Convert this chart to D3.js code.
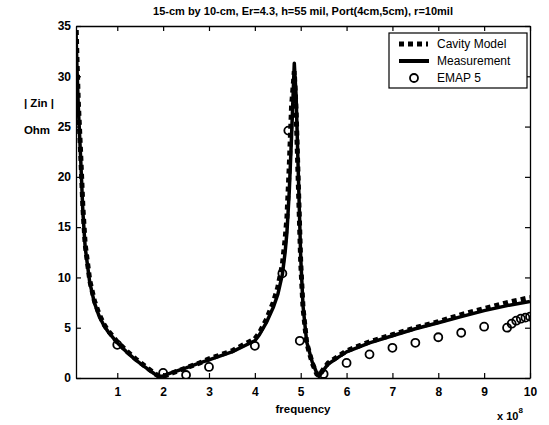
<!DOCTYPE html>
<html>
<head>
<meta charset="utf-8">
<script src="https://cdn.jsdelivr.net/npm/d3@7"></script>
<style>
  body { margin: 0; background: #fff; }
  svg text { font-family: "Liberation Sans", Arial, sans-serif; fill: #000; }
</style>
</head>
<body>
<svg id="chart" width="549" height="425"></svg>
<script>
// frequency in units of 1e8 Hz
var freq = [0.1, 0.12, 0.15, 0.2, 0.25, 0.3, 0.4, 0.5, 0.6, 0.7, 0.8, 1.0, 1.2, 1.4, 1.6, 1.8, 1.9, 2.0, 2.2, 2.5, 2.8, 3.0, 3.5, 4.0, 4.1, 4.25, 4.4, 4.5, 4.6, 4.66, 4.7, 4.75, 4.8, 4.86, 4.9, 4.95, 5.0, 5.05, 5.13, 5.25, 5.35, 5.4, 5.5, 5.6, 5.8, 6.0, 6.5, 7.0, 7.5, 8.0, 8.5, 9.0, 9.5, 10];
var measurement = [34.5, 31, 27, 22, 16.5, 13, 9.5, 7.5, 6.2, 5.3, 4.6, 3.5, 2.6, 1.8, 1.1, 0.45, 0.15, 0.2, 0.55, 1.0, 1.5, 1.8, 2.6, 3.7, 4.3, 5.5, 7.0, 8.3, 10.3, 12.5, 14.5, 18.5, 24, 31.3, 28, 20, 12, 7.2, 3.6, 1.6, 0.5, 0.15, 0.8, 1.4, 2.0, 2.6, 3.5, 4.2, 4.9, 5.5, 6.1, 6.7, 7.2, 7.6];
var cavityModel = [35.5, 32, 27.5, 22.5, 17, 13.3, 9.7, 7.7, 6.4, 5.4, 4.7, 3.6, 2.7, 1.9, 1.2, 0.5, 0.2, 0.15, 0.5, 1.0, 1.5, 1.9, 2.7, 3.9, 4.5, 5.8, 7.5, 9.0, 11.3, 13.8, 16, 21, 27, 30.5, 26.5, 19, 11.5, 7.0, 3.5, 1.5, 0.4, 0.2, 0.9, 1.5, 2.1, 2.7, 3.6, 4.3, 5.0, 5.6, 6.3, 6.9, 7.5, 8.0];
var emapFreq = [1.0, 2.0, 2.5, 3.0, 4.0, 4.6, 4.73, 4.98, 5.5, 6.0, 6.5, 7.0, 7.5, 8.0, 8.5, 9.0, 9.5, 9.6, 9.7, 9.8, 9.9, 10];
var emapValue = [3.3, 0.5, 0.3, 1.1, 3.2, 10.4, 24.6, 3.7, 0.4, 1.5, 2.35, 3.0, 3.5, 4.05, 4.5, 5.1, 5.0, 5.4, 5.7, 5.9, 6.0, 6.1];
var xTicks = [1, 2, 3, 4, 5, 6, 7, 8, 9, 10];
var yTicks = [0, 5, 10, 15, 20, 25, 30, 35];
var legendLabels = ["Cavity Model", "Measurement", "EMAP 5"];

var svg = d3.select("#chart");
var plotLeft = 76, plotRight = 530, plotTop = 26, plotBottom = 378;

var x = d3.scaleLinear().domain([0.1, 10]).range([plotLeft, plotRight]);
var y = d3.scaleLinear().domain([0, 35]).range([plotBottom, plotTop]);

svg.append("defs").append("clipPath").attr("id", "plotClip")
  .append("rect").attr("x", plotLeft).attr("y", plotTop)
  .attr("width", plotRight - plotLeft).attr("height", plotBottom - plotTop);

var plot = svg.append("g").attr("clip-path", "url(#plotClip)");

var line = d3.line()
  .x(function (d) { return x(d[0]); })
  .y(function (d) { return y(d[1]); });

var measPts = freq.map(function (f, i) { return [f, measurement[i]]; });
var cavPts = freq.map(function (f, i) { return [f, cavityModel[i]]; });

plot.append("path").datum(measPts).attr("d", line)
  .attr("fill", "none").attr("stroke", "#000").attr("stroke-width", 3.5)
  .attr("stroke-linejoin", "round");
plot.append("path").datum(cavPts).attr("d", line)
  .attr("fill", "none").attr("stroke", "#000").attr("stroke-width", 5)
  .attr("stroke-dasharray", "5,4");

plot.selectAll(".emap").data(emapFreq).enter().append("circle")
  .attr("class", "emap")
  .attr("cx", function (d) { return x(d); })
  .attr("cy", function (d, i) { return y(emapValue[i]); })
  .attr("r", 4)
  .attr("fill", "none").attr("stroke", "#000").attr("stroke-width", 1.8);

// axes box with inward ticks on all sides
var axes = svg.append("g");
axes.append("g").attr("transform", "translate(0," + plotBottom + ")")
  .call(d3.axisBottom(x).tickValues(xTicks).tickSizeInner(-5).tickSizeOuter(0).tickPadding(9));
axes.append("g").attr("transform", "translate(0," + plotTop + ")")
  .call(d3.axisTop(x).tickValues(xTicks).tickSizeInner(-5).tickSizeOuter(0).tickFormat(""));
axes.append("g").attr("transform", "translate(" + plotLeft + ",0)")
  .call(d3.axisLeft(y).tickValues(yTicks).tickSizeInner(-5).tickSizeOuter(0).tickPadding(5));
axes.append("g").attr("transform", "translate(" + plotRight + ",0)")
  .call(d3.axisRight(y).tickValues(yTicks).tickSizeInner(-5).tickSizeOuter(0).tickFormat(""));
axes.selectAll(".domain").attr("stroke", "#000").attr("stroke-width", 1.3);
axes.selectAll(".tick line").attr("stroke", "#000").attr("stroke-width", 1.2);
axes.selectAll(".tick text").attr("font-size", 12).attr("font-weight", "bold")
  .attr("font-family", "Liberation Sans, Arial, sans-serif");

// labels
svg.append("text").attr("x", (plotLeft + plotRight) / 2).attr("y", 15)
  .attr("text-anchor", "middle").attr("font-size", 11).attr("font-weight", "bold")
  .text("15-cm by 10-cm, Er=4.3, h=55 mil, Port(4cm,5cm), r=10mil");
svg.append("text").attr("x", (plotLeft + plotRight) / 2).attr("y", 413)
  .attr("text-anchor", "middle").attr("font-size", 11.5).attr("font-weight", "bold")
  .text("frequency");
svg.append("text").attr("x", 39).attr("y", 107)
  .attr("text-anchor", "middle").attr("font-size", 11.5).attr("font-weight", "bold")
  .text("| Zin |");
svg.append("text").attr("x", 37).attr("y", 134)
  .attr("text-anchor", "middle").attr("font-size", 11.5).attr("font-weight", "bold")
  .text("Ohm");
var mult = svg.append("text").attr("x", 497).attr("y", 420)
  .attr("font-size", 11).attr("font-weight", "bold");
mult.append("tspan").text("x 10");
mult.append("tspan").attr("dy", -7).attr("font-size", 8).text("8");

// legend
var legend = svg.append("g").attr("transform", "translate(389,33)");
legend.append("rect").attr("width", 138).attr("height", 55)
  .attr("fill", "#fff").attr("stroke", "#000").attr("stroke-width", 1.2);
var rows = legend.selectAll(".row").data(legendLabels).enter().append("g")
  .attr("class", "row")
  .attr("transform", function (d, i) { return "translate(0," + (11 + i * 17) + ")"; });
rows.append("text").attr("x", 48).attr("y", 4).attr("font-size", 12)
  .text(function (d) { return d; });
rows.filter(function (d, i) { return i === 0; }).append("line")
  .attr("x1", 10).attr("x2", 39).attr("stroke", "#000").attr("stroke-width", 5)
  .attr("stroke-dasharray", "5,4");
rows.filter(function (d, i) { return i === 1; }).append("line")
  .attr("x1", 10).attr("x2", 40).attr("stroke", "#000").attr("stroke-width", 4);
rows.filter(function (d, i) { return i === 2; }).append("circle")
  .attr("cx", 25).attr("r", 4).attr("fill", "none").attr("stroke", "#000").attr("stroke-width", 1.8);
</script>
</body>
</html>
